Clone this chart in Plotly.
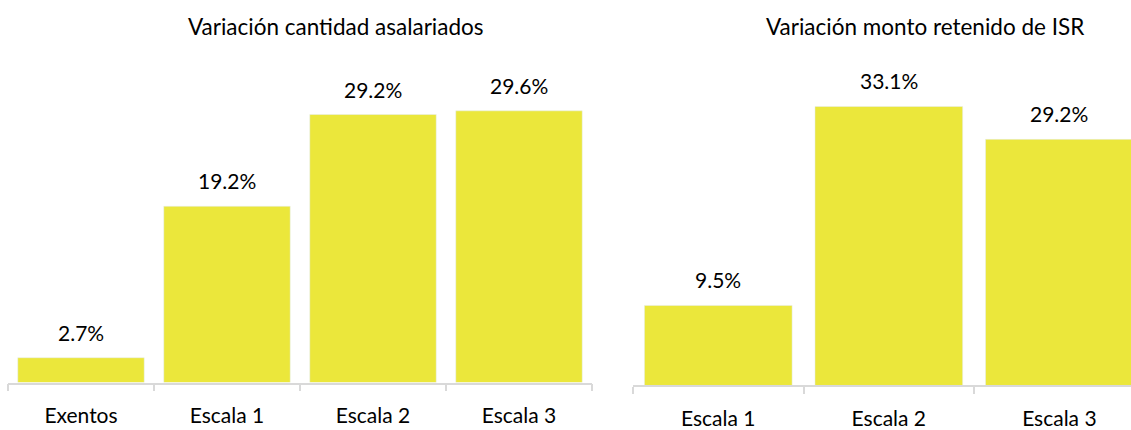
import plotly.graph_objects as go

cats_left = ["Exentos", "Escala 1", "Escala 2", "Escala 3"]
vals_left = [2.7, 19.2, 29.2, 29.6]
cats_right = ["Escala 1", "Escala 2", "Escala 3"]
vals_right = [9.5, 33.1, 29.2]
title_left = "Variación cantidad asalariados"
title_right = "Variación monto retenido de ISR"

W, H = 1131, 430
BAR = "#EBE73B"
FONT = "Lato"
FS = 21
FT = 22.5

fig = go.Figure()
fig.add_trace(go.Bar(x=cats_left, y=vals_left, marker_color=BAR, xaxis="x", yaxis="y",
                     showlegend=False, hoverinfo="skip"))
fig.add_trace(go.Bar(x=cats_right, y=vals_right, marker_color=BAR, xaxis="x2", yaxis="y2",
                     showlegend=False, hoverinfo="skip"))

anns = []
for c, v in zip(cats_left, vals_left):
    anns.append(dict(x=c, y=v, xref="x", yref="y", text=f"{v:.1f}%", showarrow=False,
                     yanchor="bottom", yshift=11, font=dict(size=FS, color="#000", family=FONT)))
for c, v in zip(cats_right, vals_right):
    anns.append(dict(x=c, y=v, xref="x2", yref="y2", text=f"{v:.1f}%", showarrow=False,
                     yanchor="bottom", yshift=11, font=dict(size=FS, color="#000", family=FONT)))
anns.append(dict(x=336 / W, y=1 - 27 / H, xref="paper", yref="paper", text=title_left,
                 showarrow=False, xanchor="center", yanchor="middle",
                 font=dict(size=FT, color="#000", family=FONT)))
anns.append(dict(x=925 / W, y=1 - 27 / H, xref="paper", yref="paper", text=title_right,
                 showarrow=False, xanchor="center", yanchor="middle",
                 font=dict(size=FT, color="#000", family=FONT)))

axis_common = dict(showgrid=False, zeroline=False, showline=True, linecolor="#D9D9D9",
                   linewidth=1.5, ticks="outside", tickson="boundaries", ticklen=7,
                   tickcolor="#D9D9D9", tickwidth=1.5, ticklabelstandoff=14,
                   tickfont=dict(size=FS, color="#000", family=FONT), fixedrange=True)

fig.update_layout(
    width=W, height=H, margin=dict(l=0, r=0, t=0, b=0),
    paper_bgcolor="white", plot_bgcolor="white",
    bargap=0.134,
    xaxis=dict(domain=[8 / W, 592 / W], anchor="y", **axis_common),
    yaxis=dict(domain=[43 / H, 1 - 62 / H], range=[0, 35], visible=False, anchor="x"),
    xaxis2=dict(domain=[633 / W, 1.0], anchor="y2", range=[-0.5, 2.42], **axis_common),
    yaxis2=dict(domain=[40 / H, 1 - 91.5 / H], range=[0, 35], visible=False, anchor="x2"),
    annotations=anns,
    font=dict(family=FONT),
)

fig.write_html("out.html", config={"displayModeBar": False},
               post_script="document.body.style.margin='0';document.body.style.overflow='hidden';")
